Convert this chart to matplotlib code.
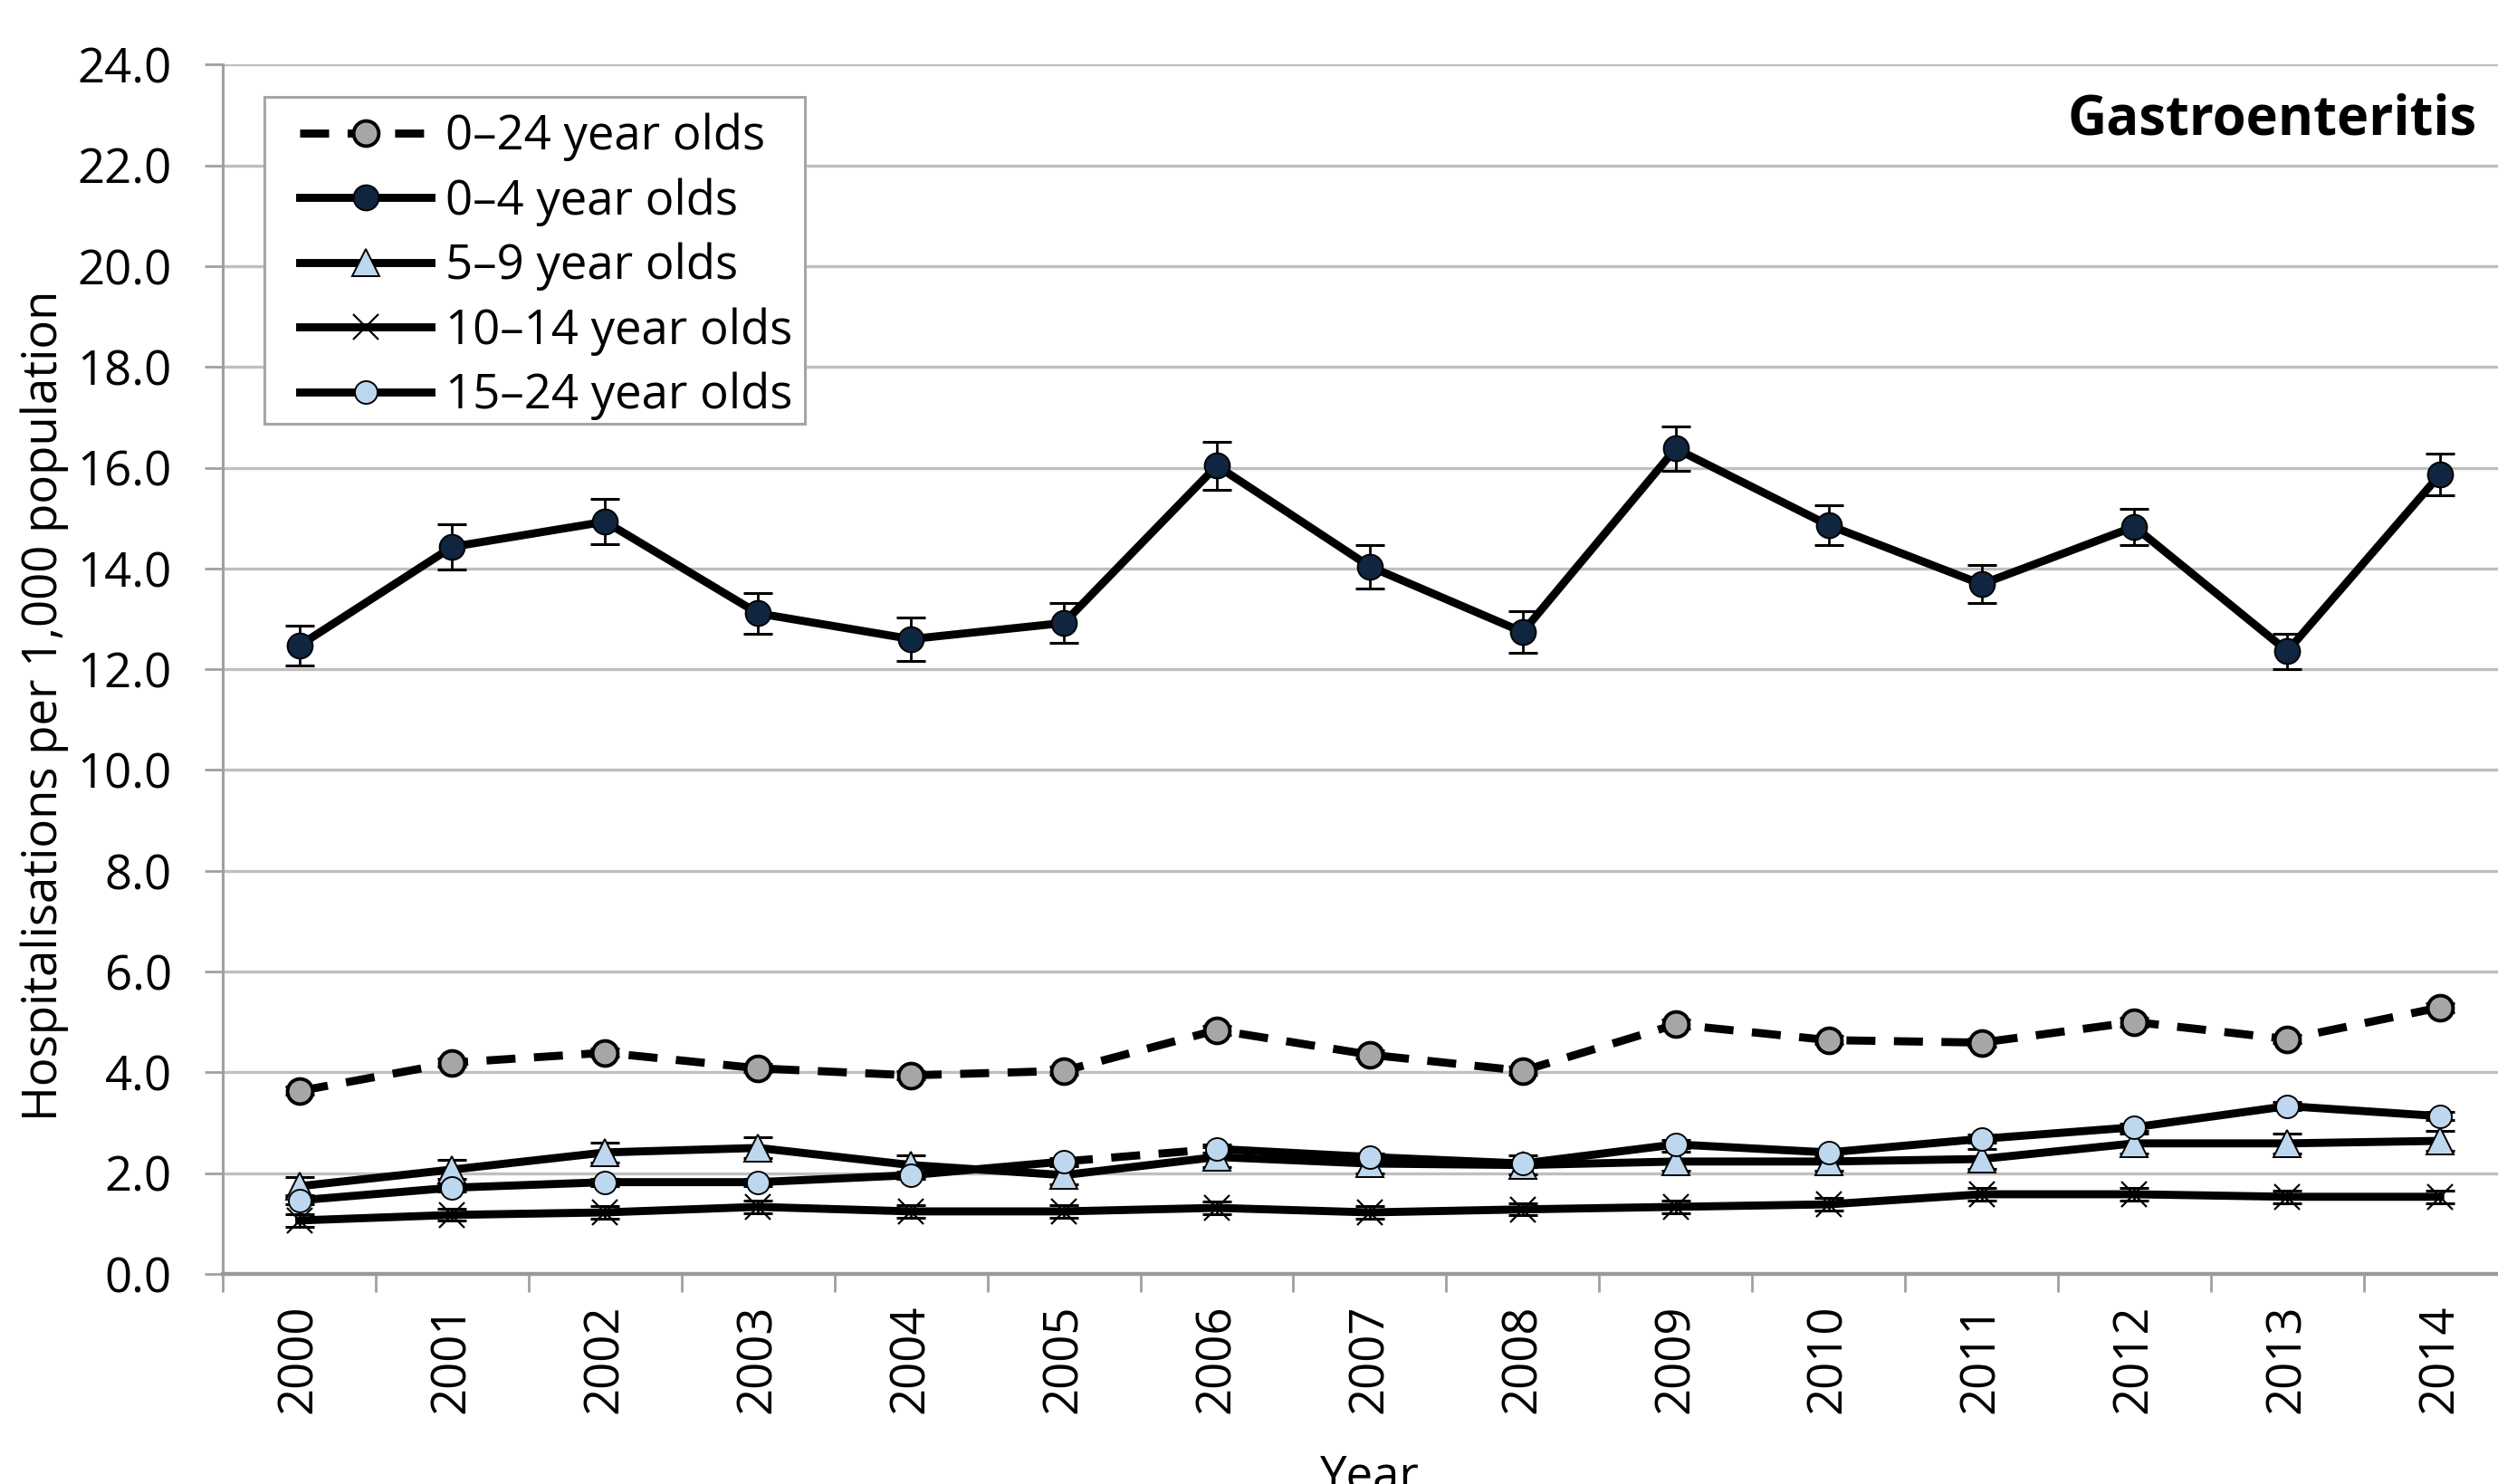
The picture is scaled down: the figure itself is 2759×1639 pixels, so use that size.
import numpy as np
import matplotlib
matplotlib.use('Agg')
import matplotlib.pyplot as plt
from matplotlib.patches import Rectangle
from matplotlib.ticker import FormatStrFormatter

plt.rcParams['font.family'] = ['Open Sans', 'DejaVu Sans']

# --- datos (hospitalizaciones por 1.000 hab.) ---
years = ['2000', '2001', '2002', '2003', '2004', '2005', '2006', '2007',
         '2008', '2009', '2010', '2011', '2012', '2013', '2014']

age_0_24 = [3.63, 4.19, 4.39, 4.08, 3.94, 4.03, 4.84, 4.35, 4.03, 4.95, 4.64, 4.59, 5.00, 4.66, 5.29]
err_0_24 = [0.08, 0.08, 0.08, 0.08, 0.08, 0.08, 0.09, 0.08, 0.08, 0.09, 0.08, 0.08, 0.09, 0.08, 0.09]

age_0_4 = [12.47, 14.43, 14.93, 13.11, 12.60, 12.92, 16.04, 14.04, 12.74, 16.38, 14.86, 13.69, 14.83, 12.36, 15.87]
err_0_4 = [0.40, 0.45, 0.45, 0.40, 0.43, 0.40, 0.48, 0.43, 0.42, 0.44, 0.40, 0.38, 0.36, 0.35, 0.41]

age_5_9 = [1.74, 2.07, 2.41, 2.50, 2.16, 1.96, 2.32, 2.19, 2.16, 2.23, 2.23, 2.28, 2.59, 2.59, 2.64]
err_5_9 = [0.18, 0.19, 0.20, 0.21, 0.19, 0.18, 0.20, 0.19, 0.19, 0.19, 0.19, 0.19, 0.20, 0.20, 0.20]

age_10_14 = [1.06, 1.17, 1.22, 1.33, 1.24, 1.24, 1.31, 1.22, 1.28, 1.33, 1.38, 1.58, 1.58, 1.53, 1.53]
err_10_14 = [0.12, 0.12, 0.12, 0.13, 0.12, 0.12, 0.12, 0.12, 0.12, 0.12, 0.12, 0.13, 0.13, 0.13, 0.13]

age_15_24 = [1.46, 1.71, 1.82, 1.82, 1.96, 2.23, 2.48, 2.32, 2.19, 2.57, 2.41, 2.68, 2.91, 3.33, 3.13]
err_15_24 = [0.07, 0.07, 0.07, 0.07, 0.07, 0.07, 0.08, 0.07, 0.07, 0.08, 0.07, 0.08, 0.08, 0.08, 0.08]

labels = ['0–24 year olds', '0–4 year olds', '5–9 year olds',
          '10–14 year olds', '15–24 year olds']

navy = '#10253F'
gray = '#A6A6A6'
lblue = '#BDD7EE'

x = np.arange(len(years))

fig = plt.figure(figsize=(13.795, 8.195), dpi=200)
ax = fig.add_axes([0.0892, 0.1416, 0.9183, 0.8148])

# barras de error (detrás de las líneas)
for vals, err in [(age_0_24, err_0_24), (age_0_4, err_0_4), (age_5_9, err_5_9),
                  (age_10_14, err_10_14), (age_15_24, err_15_24)]:
    ax.errorbar(x, vals, yerr=err, fmt='none', ecolor='black',
                elinewidth=1.0, capsize=5.8, capthick=1.1, zorder=2)

lw = 3.2
dash = (3.6, 2.3)
h1, = ax.plot(x, age_0_24, color='black', lw=lw, dashes=dash,
              marker='o', ms=10, mfc=gray, mec='black', mew=1.4, zorder=3)
h2, = ax.plot(x, age_0_4, color='black', lw=lw,
              marker='o', ms=10, mfc=navy, mec='black', mew=0.7, zorder=3)
h3, = ax.plot(x, age_5_9, color='black', lw=lw,
              marker='^', ms=10.5, mfc=lblue, mec='black', mew=0.7, zorder=3)
h4, = ax.plot(x, age_10_14, color='black', lw=lw,
              marker='x', ms=10, mec='black', mew=0.8, zorder=3)
# 15-24: el tramo 2005-2006 aparece discontinuo en el original
h5, = ax.plot(x[:6], age_15_24[:6], color='black', lw=lw,
              marker='o', ms=9, mfc=lblue, mec='black', mew=0.7, zorder=3.2)
ax.plot(x[6:], age_15_24[6:], color='black', lw=lw,
        marker='o', ms=9, mfc=lblue, mec='black', mew=0.7, zorder=3.2)
ax.plot(x[5:7], age_15_24[5:7], color='black', lw=lw, dashes=dash,
        zorder=3.1)

# ejes
ax.set_xlim(-0.5, 14.5)
ax.set_ylim(0, 24)
ax.set_yticks(np.arange(0, 25, 2))
ax.yaxis.set_major_formatter(FormatStrFormatter('%.1f'))
ax.set_xticks(x)
ax.set_xticklabels(years, rotation=90, va='top', ha='center')
ax.set_xticks(np.arange(-0.5, 15, 1), minor=True)
ax.tick_params(axis='x', which='major', length=0, pad=12, labelsize=19)
ax.tick_params(axis='x', which='minor', length=7.2, width=1, color='#A0A0A0')
ax.tick_params(axis='y', length=7.2, width=1, color='#A0A0A0', pad=13, labelsize=19)

ax.yaxis.grid(True, color='#BFBFBF', lw=1.2)
ax.set_axisbelow(True)
for s in ['top', 'right']:
    ax.spines[s].set_visible(False)
ax.spines['left'].set_color('#A0A0A0')
ax.spines['left'].set_linewidth(1.1)
ax.spines['bottom'].set_color('#999999')
ax.spines['bottom'].set_linewidth(1.6)

ax.set_ylabel('Hospitalisations per 1,000 population', fontsize=19, va='center')
ax.yaxis.set_label_coords(-0.0778, 0.47)
ax.set_xlabel('Year', fontsize=19, labelpad=16)

# leyenda con marco dibujado aparte
ax.add_patch(Rectangle((292 / 2759, 1 - 468 / 1639), 597 / 2759, 361 / 1639,
                       transform=fig.transFigure, facecolor='white',
                       edgecolor='#A6A6A6', lw=1.1, zorder=4, clip_on=False))
ax.legend([h1, h2, h3, h4, h5], labels, frameon=False, loc='upper left',
          bbox_to_anchor=(331 / 2759, 1 - 125 / 1639),
          bbox_transform=fig.transFigure, borderpad=0, borderaxespad=0,
          fontsize=19, handlelength=2.75, handletextpad=0.3,
          labelspacing=0.34)

fig.text(0.9917, 0.9097, 'Gastroenteritis', ha='right', va='baseline',
         fontsize=21.5, fontweight='bold')

fig.savefig('out.png', dpi=200)
